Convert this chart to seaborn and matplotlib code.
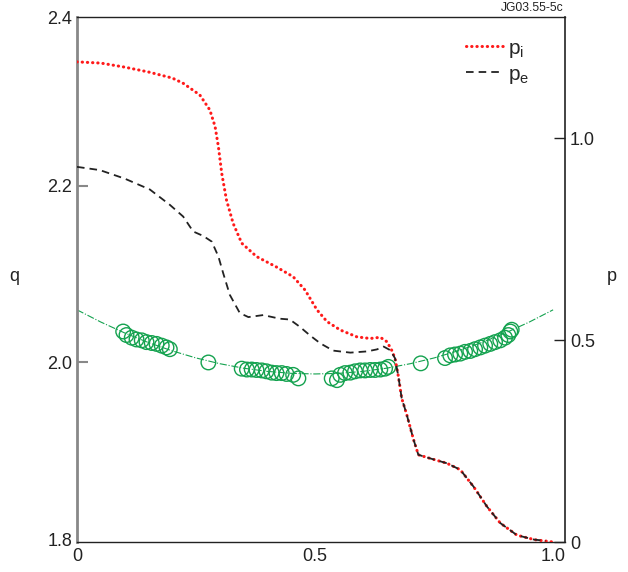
import numpy as np
import pandas as pd
import matplotlib
matplotlib.use("Agg")
import matplotlib.pyplot as plt
import seaborn as sns

# q profile fit (green dash-dot)
fit_r = [0.0, 0.05, 0.10, 0.15, 0.20, 0.25, 0.30, 0.35, 0.40, 0.45, 0.50,
         0.55, 0.60, 0.65, 0.70, 0.75, 0.80, 0.85, 0.90, 0.95, 1.00]
fit_q = [2.0595, 2.0457, 2.0334, 2.0225, 2.0131, 2.0051, 1.9986, 1.9935, 1.9899, 1.9877, 1.9870,
         1.9877, 1.9899, 1.9935, 1.9986, 2.0051, 2.0131, 2.0225, 2.0334, 2.0457, 2.0595]

# measured q points (circles)
meas_r = [0.097, 0.104, 0.115, 0.125, 0.136, 0.146, 0.157, 0.167, 0.178, 0.188, 0.195,
          0.276,
          0.346, 0.357, 0.367, 0.377, 0.388, 0.398, 0.409, 0.419, 0.430, 0.440, 0.454, 0.465,
          0.535, 0.546, 0.553, 0.563, 0.574, 0.584, 0.595, 0.605, 0.616, 0.626, 0.637, 0.647, 0.654,
          0.722,
          0.773, 0.784, 0.794, 0.805, 0.815, 0.826, 0.836, 0.847, 0.857, 0.868, 0.878, 0.889,
          0.899, 0.906, 0.910, 0.913]
meas_q = [2.035, 2.031, 2.028, 2.026, 2.025, 2.023, 2.022, 2.021, 2.019, 2.017, 2.015,
          2.000,
          1.993, 1.992, 1.992, 1.9915, 1.991, 1.990, 1.9885, 1.988, 1.988, 1.987, 1.986, 1.982,
          1.982, 1.980, 1.986, 1.988, 1.9885, 1.990, 1.991, 1.991, 1.9915, 1.9915, 1.992, 1.993, 1.995,
          1.999,
          2.005, 2.008, 2.009, 2.010, 2.012, 2.013, 2.015, 2.017, 2.019, 2.021, 2.023, 2.025,
          2.028, 2.031, 2.035, 2.037]

# ion pressure
pi_r = [0.0, 0.05, 0.10, 0.15, 0.20, 0.223, 0.258, 0.279, 0.290, 0.297, 0.304, 0.314, 0.328,
        0.346, 0.377, 0.419, 0.454, 0.479, 0.504, 0.525, 0.553, 0.588, 0.616, 0.637, 0.651,
        0.661, 0.668, 0.675, 0.682, 0.692, 0.707, 0.717, 0.742, 0.777, 0.805, 0.833, 0.861,
        0.889, 0.924, 0.960, 1.0]
pi_p = [1.189, 1.186, 1.176, 1.164, 1.149, 1.136, 1.107, 1.070, 1.029, 0.979, 0.913, 0.847, 0.789,
        0.740, 0.707, 0.681, 0.657, 0.624, 0.575, 0.546, 0.525, 0.508, 0.504, 0.507, 0.496,
        0.475, 0.455, 0.410, 0.356, 0.318, 0.253, 0.216, 0.207, 0.195, 0.179, 0.137, 0.088,
        0.047, 0.017, 0.006, 0.0]

# electron pressure
pe_r = [0.0, 0.048, 0.10, 0.153, 0.195, 0.223, 0.244, 0.265, 0.283, 0.297, 0.307, 0.321,
        0.342, 0.360, 0.391, 0.426, 0.447, 0.468, 0.489, 0.511, 0.538, 0.574, 0.609, 0.630,
        0.644, 0.658, 0.668, 0.675, 0.682, 0.692, 0.707, 0.717, 0.742, 0.777, 0.805, 0.833,
        0.861, 0.889, 0.924, 0.960, 0.985]
pe_p = [0.929, 0.921, 0.900, 0.873, 0.835, 0.806, 0.769, 0.758, 0.744, 0.707, 0.666, 0.612,
        0.567, 0.557, 0.562, 0.553, 0.551, 0.533, 0.512, 0.492, 0.474, 0.469, 0.472, 0.477,
        0.484, 0.475, 0.455, 0.410, 0.356, 0.318, 0.253, 0.216, 0.207, 0.195, 0.179, 0.137,
        0.088, 0.047, 0.017, 0.006, 0.003]

green = "#14a24f"
ink = "#222222"

sns.set_style("white")
plt.rcParams["font.family"] = ["Liberation Sans", "DejaVu Sans"]

fig = plt.figure(figsize=(6.28, 5.72), dpi=100)
ax = fig.add_axes([0.1226, 0.0524, 0.7771, 0.9178])
ax2 = ax.twinx()

sns.lineplot(x=fit_r, y=fit_q, ax=ax, color=green, linestyle="-.", linewidth=0.8)
sns.scatterplot(x=meas_r, y=meas_q, ax=ax, marker="o", s=110,
                facecolor="none", edgecolor=green, linewidth=1.0)

sns.lineplot(x=pi_r, y=pi_p, ax=ax2, color="#ff1a1a", linestyle=(0, (0.1, 1.6)),
             dash_capstyle="round", linewidth=2.2, label="$\\mathregular{p_i}$")
sns.lineplot(x=pe_r, y=pe_p, ax=ax2, color=ink, linestyle=(0, (4.2, 2.8)),
             linewidth=1.3, label="$\\mathregular{p_e}$")

ax.set_xlim(0, 1.025)
ax.set_ylim(1.797, 2.3905)
ax2.set_ylim(0, 1.3)

ax.set_xticks([0, 0.5, 1.0])
ax.set_xticklabels(["0", "0.5", "1.0"])
ax.set_yticks([1.8, 2.0, 2.2, 2.39])
ax.set_yticklabels(["1.8", "2.0", "2.2", "2.4"])
ax2.set_yticks([0, 0.5, 1.0])
ax2.set_yticklabels(["0", "0.5", "1.0"])

ax.tick_params(axis="y", direction="in", length=8, width=1.5, color="#888888",
               pad=3.5, labelsize=13, labelcolor=ink)
ax.tick_params(axis="x", direction="in", length=8, width=1.0, color=ink,
               pad=4, labelsize=13, labelcolor=ink)
ax2.tick_params(axis="y", direction="in", length=8, width=1.0, color=ink,
                pad=3.5, labelsize=13, labelcolor=ink)

# no tick marks at the ends of the q axis
yt = ax.yaxis.get_major_ticks()
yt[0].tick1line.set_visible(False)
yt[-1].tick1line.set_visible(False)
ax.xaxis.get_major_ticks()[0].tick1line.set_visible(False)

for s in ["top", "bottom"]:
    ax.spines[s].set_color(ink)
    ax.spines[s].set_linewidth(1.0)
ax.spines["left"].set_color("#888888")
ax.spines["left"].set_linewidth(2.0)
ax.spines["right"].set_visible(False)
for s in ["top", "bottom", "left"]:
    ax2.spines[s].set_visible(False)
ax2.spines["right"].set_color(ink)
ax2.spines["right"].set_linewidth(1.2)

ax.set_ylabel("q", rotation=0, fontsize=13, color=ink, va="center", ha="center")
ax.yaxis.set_label_coords(-0.129, 0.505)
ax2.set_ylabel("p", rotation=0, fontsize=13, color=ink, va="center", ha="center")
ax2.yaxis.set_label_coords(1.096, 0.505)
ax.set_xlabel("")

ax2.legend(loc="upper left", bbox_to_anchor=(0.78, 0.975), frameon=False,
           handlelength=1.8, fontsize=15, handletextpad=0.2, labelspacing=0.25,
           borderaxespad=0)

fig.text(563 / 628, 1 - 8 / 572, "JG03.55-5c", ha="right", va="center",
         fontsize=8.7, color=ink)

fig.savefig("out.png", dpi=100)
